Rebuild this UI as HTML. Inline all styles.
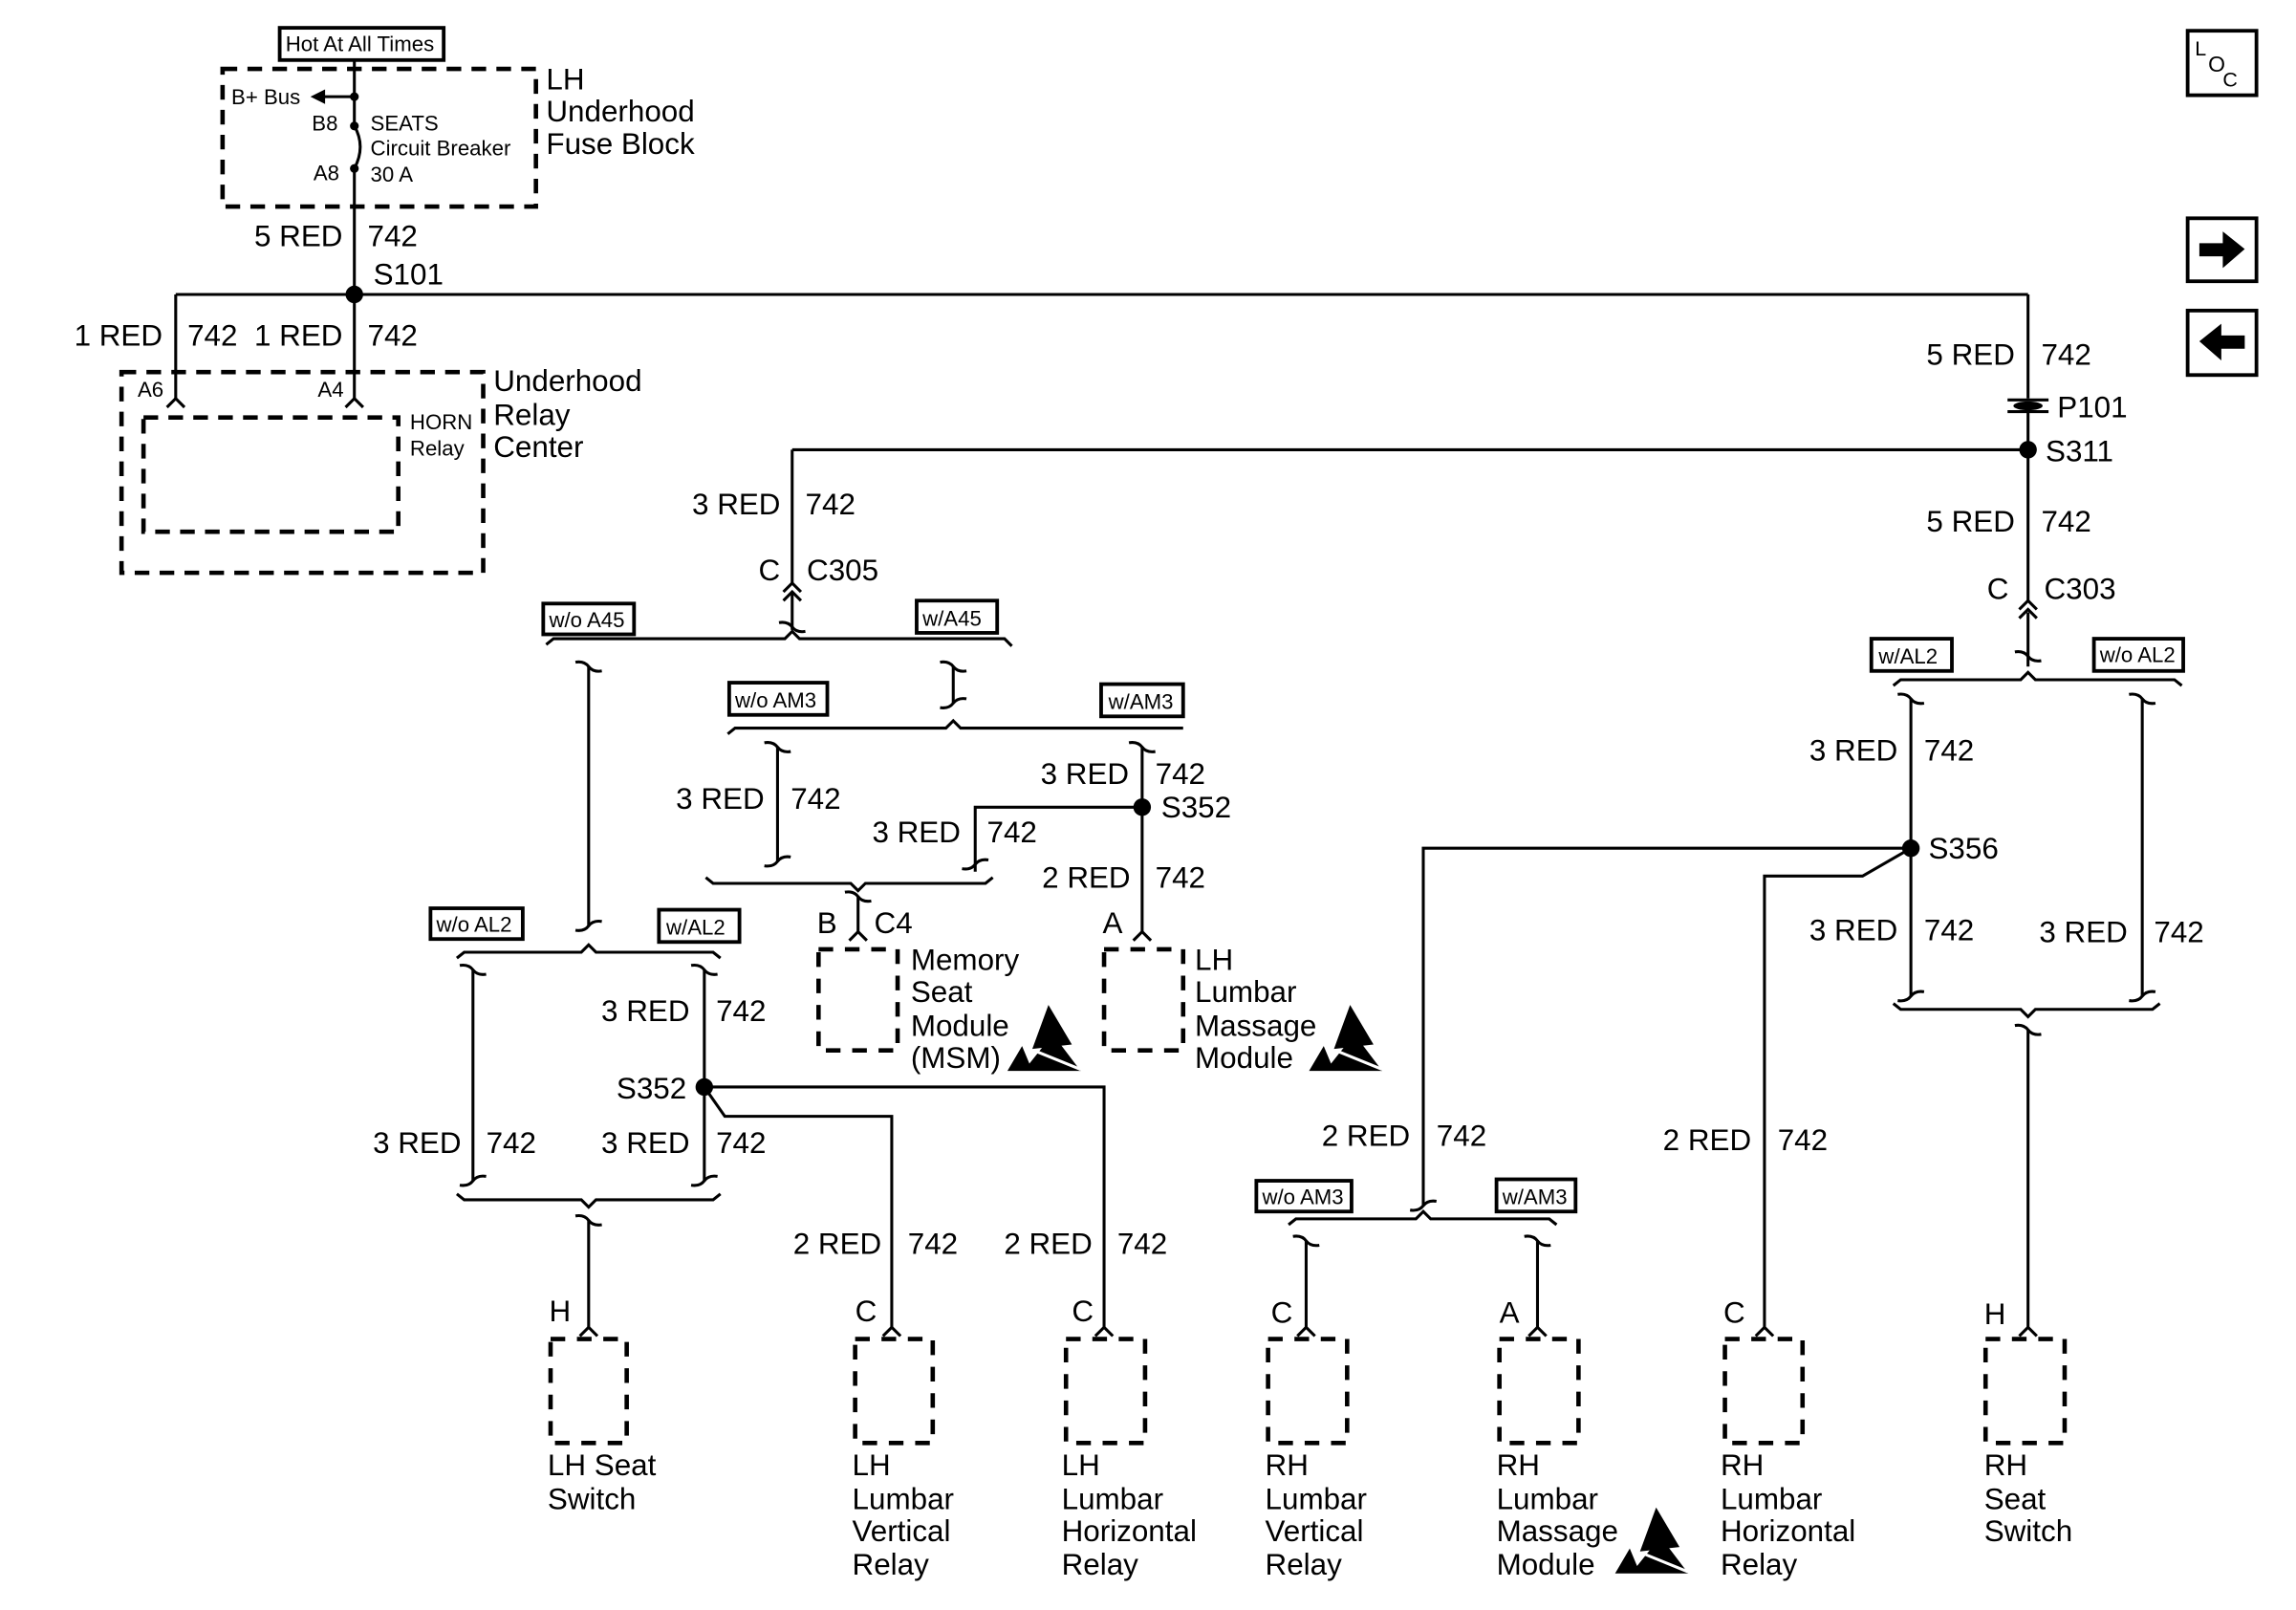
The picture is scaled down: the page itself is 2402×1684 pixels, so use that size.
<!DOCTYPE html>
<html><head><meta charset="utf-8"><style>
html,body{margin:0;padding:0;background:#fff}
svg{display:block}
text{font-family:"Liberation Sans",Arial,sans-serif;fill:#000}
.b{font-size:20.5px}.w{font-size:20.5px}.s{font-size:14.5px}
</style></head><body>
<svg width="2402" height="1684" viewBox="0 0 1568 1099" preserveAspectRatio="none" xmlns="http://www.w3.org/2000/svg">
<defs>
<path id="cap" d="M-9,-3 Q-3,-4 0,0 Q3,4 9,3" fill="none" stroke="#000" stroke-width="2"/>
<path id="capb" d="M-9,3 Q-3,4 0,0 Q3,-4 9,-3" fill="none" stroke="#000" stroke-width="2"/>
<path id="fem" d="M-6,6 L0,0 L6,6" fill="none" stroke="#000" stroke-width="2"/>
<g id="esd"><path d="M28,0 L17,30 L44,27 Z" fill="#000"/><path d="M0,45 L10,28 L15,40 L31,20 L50,45 Z" fill="#000"/><path d="M18,31 L50,44" stroke="#fff" stroke-width="2"/></g>
</defs>
<g fill="none" stroke="#000" stroke-width="2">
<rect x="191" y="19" width="112" height="22" stroke-width="2.5"/>
<rect x="152" y="47" width="214" height="94" stroke-dasharray="10,7" stroke-width="3"/>
<line x1="242" y1="41" x2="242" y2="86"/>
<line x1="242" y1="66" x2="220" y2="66"/>
<path d="M242,86 Q250,100 242,115"/>
<line x1="242" y1="115" x2="242" y2="272"/>
<line x1="120" y1="201" x2="1385" y2="201"/>
<line x1="120" y1="201" x2="120" y2="272"/>
<rect x="83" y="254" width="247" height="137" stroke-dasharray="10,7" stroke-width="3"/>
<rect x="98" y="285" width="174" height="78" stroke-dasharray="10,7" stroke-width="3"/>
<line x1="1385" y1="201" x2="1385" y2="272"/>
<line x1="1371" y1="273" x2="1399" y2="273"/><line x1="1371" y1="281" x2="1399" y2="281"/>
<line x1="1385" y1="281" x2="1385" y2="410"/>
<line x1="541" y1="307" x2="1385" y2="307"/>
<line x1="541" y1="307" x2="541" y2="398"/>
<line x1="541" y1="404" x2="541" y2="430"/>
<path d="M373,440 L378,436 L536,436 L541,431 L546,436 L686,436 L691,441"/>
<line x1="402" y1="455" x2="402" y2="632"/>
<line x1="651" y1="455" x2="651" y2="480"/>
<path d="M497,501 L502,497 L646,497 L651,492 L656,497 L808,497"/>
<line x1="531" y1="510" x2="531" y2="588"/>
<line x1="780" y1="510" x2="780" y2="636"/>
<polyline points="780,551 666,551 666,595"/>
<path d="M482,599 L487,603 L581,603 L586,608 L591,603 L673,603 L678,599"/>
<line x1="586" y1="612" x2="586" y2="636"/>
<rect x="559" y="648" width="54" height="69" stroke-dasharray="10,8" stroke-width="3"/>
<rect x="754" y="648" width="54" height="69" stroke-dasharray="10,8" stroke-width="3"/>
<path d="M312,654 L317,650 L397,650 L402,645 L407,650 L487,650 L492,654"/>
<line x1="323" y1="662" x2="323" y2="806"/>
<line x1="481" y1="662" x2="481" y2="806"/>
<path d="M312,815 L317,819 L397,819 L402,824 L407,819 L487,819 L492,815"/>
<line x1="402" y1="833" x2="402" y2="906"/>
<polyline points="481,742 754,742 754,906"/>
<polyline points="481,742 495,762 609,762 609,906"/>
<rect x="376" y="914" width="52" height="71" stroke-dasharray="10,8" stroke-width="3"/>
<rect x="584" y="914" width="53" height="71" stroke-dasharray="10,8" stroke-width="3"/>
<rect x="728" y="914" width="54" height="71" stroke-dasharray="10,8" stroke-width="3"/>
<line x1="1385" y1="418" x2="1385" y2="455"/>
<path d="M1293,468 L1298,464 L1380,464 L1385,459 L1390,464 L1485,464 L1490,468"/>
<line x1="1305" y1="477" x2="1305" y2="680"/>
<line x1="1463" y1="477" x2="1463" y2="680"/>
<path d="M1293,685 L1298,689 L1380,689 L1385,694 L1390,689 L1470,689 L1475,685"/>
<line x1="1385" y1="703" x2="1385" y2="906"/>
<polyline points="1305,579 972,579 972,823"/>
<polyline points="1305,579 1272,598 1205,598 1205,906"/>
<path d="M880,836 L885,832 L967,832 L972,827 L977,832 L1058,832 L1063,836"/>
<line x1="892" y1="847" x2="892" y2="906"/>
<line x1="1050" y1="847" x2="1050" y2="906"/>
<rect x="866" y="914" width="54" height="71" stroke-dasharray="10,8" stroke-width="3"/>
<rect x="1024" y="914" width="54" height="71" stroke-dasharray="10,8" stroke-width="3"/>
<rect x="1178" y="914" width="53" height="71" stroke-dasharray="10,8" stroke-width="3"/>
<rect x="1356" y="914" width="54" height="71" stroke-dasharray="10,8" stroke-width="3"/>
<g stroke-width="2.5">
<rect x="371" y="412" width="62" height="21"/><rect x="626" y="410" width="55" height="22"/>
<rect x="498" y="466" width="67" height="22"/><rect x="752" y="467" width="56" height="22"/>
<rect x="294" y="620" width="63" height="21"/><rect x="450" y="621" width="55" height="22"/>
<rect x="1278" y="436" width="55" height="22"/><rect x="1430" y="436" width="61" height="22"/>
<rect x="858" y="806" width="65" height="21"/><rect x="1022" y="805" width="54" height="22"/>
</g>
<rect x="1494" y="21" width="47" height="44" stroke-width="2.5"/>
<rect x="1494" y="149" width="47" height="43" stroke-width="2.5"/>
<rect x="1494" y="212" width="47" height="44" stroke-width="2.5"/>
</g>
<use href="#fem" x="120" y="272"/><use href="#fem" x="242" y="272"/>
<use href="#fem" x="541" y="398"/><use href="#fem" x="541" y="404"/>
<use href="#fem" x="1385" y="410"/><use href="#fem" x="1385" y="416"/>
<use href="#cap" x="541" y="428"/>
<use href="#cap" x="402" y="455"/><use href="#capb" x="402" y="632"/>
<use href="#cap" x="651" y="455"/><use href="#capb" x="651" y="480"/>
<use href="#cap" x="531" y="510"/><use href="#capb" x="531" y="588"/>
<use href="#cap" x="780" y="510"/><use href="#capb" x="666" y="590"/>
<use href="#cap" x="586" y="612"/><use href="#fem" x="586" y="636"/><use href="#fem" x="780" y="636"/>
<use href="#cap" x="323" y="662"/><use href="#capb" x="323" y="806"/>
<use href="#cap" x="481" y="662"/><use href="#capb" x="481" y="806"/>
<use href="#cap" x="402" y="833"/>
<use href="#fem" x="402" y="906"/><use href="#fem" x="609" y="906"/><use href="#fem" x="754" y="906"/>
<use href="#cap" x="1385" y="448"/>
<use href="#cap" x="1305" y="477"/><use href="#cap" x="1463" y="477"/>
<use href="#capb" x="1305" y="680"/><use href="#capb" x="1463" y="680"/>
<use href="#cap" x="1385" y="703"/>
<use href="#capb" x="972" y="823"/>
<use href="#cap" x="892" y="847"/><use href="#cap" x="1050" y="847"/>
<use href="#fem" x="892" y="906"/><use href="#fem" x="1050" y="906"/><use href="#fem" x="1205" y="906"/><use href="#fem" x="1385" y="906"/>
<g fill="#000">
<circle cx="242" cy="66" r="3"/><circle cx="242" cy="86" r="3"/><circle cx="242" cy="115" r="3"/>
<path d="M212,66 L222,61 L222,71 Z"/>
<circle cx="242" cy="201" r="6"/><circle cx="1385" cy="307" r="6"/>
<circle cx="780" cy="551" r="6"/><circle cx="481" cy="742" r="6"/><circle cx="1305" cy="579" r="6"/>
<ellipse cx="1385" cy="277" rx="10" ry="3"/>
<path d="M1502,166 L1518,166 L1518,158 L1533,170 L1518,183 L1518,175 L1502,175 Z"/>
<path d="M1533,229 L1517,229 L1517,221 L1502,233 L1517,246 L1517,238 L1533,238 Z"/>
</g>
<use href="#esd" x="688" y="686"/><use href="#esd" x="894" y="686"/><use href="#esd" x="1103" y="1029"/>
<g class="s">
<text x="195" y="35">Hot At All Times</text>
<text x="158" y="71">B+ Bus</text>
<text x="213" y="89">B8</text><text x="253" y="89">SEATS</text>
<text x="253" y="106">Circuit Breaker</text>
<text x="214" y="123">A8</text><text x="253" y="124">30 A</text>
<text x="94" y="271">A6</text><text x="217" y="271">A4</text>
<text x="280" y="293">HORN</text><text x="280" y="311">Relay</text>
<text x="375" y="428">w/o A45</text><text x="630" y="427">w/A45</text>
<text x="502" y="483">w/o AM3</text><text x="757" y="484">w/AM3</text>
<text x="298" y="636">w/o AL2</text><text x="455" y="638">w/AL2</text>
<text x="1283" y="453">w/AL2</text><text x="1434" y="452">w/o AL2</text>
<text x="862" y="822">w/o AM3</text><text x="1026" y="822">w/AM3</text>
</g>
<text x="1499" y="38" font-size="14">L</text><text x="1508" y="49" font-size="15">O</text><text x="1518" y="59" font-size="14">C</text>
<g class="b">
<text x="373" y="61">LH</text><text x="373" y="83">Underhood</text><text x="373" y="105">Fuse Block</text>
<text x="337" y="267">Underhood</text><text x="337" y="290">Relay</text><text x="337" y="312">Center</text>
<text x="622" y="662">Memory</text><text x="622" y="684">Seat</text><text x="622" y="707">Module</text><text x="622" y="729">(MSM)</text>
<text x="816" y="662">LH</text><text x="816" y="684">Lumbar</text><text x="816" y="707">Massage</text><text x="816" y="729">Module</text>
<text x="374" y="1007">LH Seat</text><text x="374" y="1030">Switch</text>
<text x="582" y="1007">LH</text><text x="582" y="1030">Lumbar</text><text x="582" y="1052">Vertical</text><text x="582" y="1075">Relay</text>
<text x="725" y="1007">LH</text><text x="725" y="1030">Lumbar</text><text x="725" y="1052">Horizontal</text><text x="725" y="1075">Relay</text>
<text x="864" y="1007">RH</text><text x="864" y="1030">Lumbar</text><text x="864" y="1052">Vertical</text><text x="864" y="1075">Relay</text>
<text x="1022" y="1007">RH</text><text x="1022" y="1030">Lumbar</text><text x="1022" y="1052">Massage</text><text x="1022" y="1075">Module</text>
<text x="1175" y="1007">RH</text><text x="1175" y="1030">Lumbar</text><text x="1175" y="1052">Horizontal</text><text x="1175" y="1075">Relay</text>
<text x="1355" y="1007">RH</text><text x="1355" y="1030">Seat</text><text x="1355" y="1052">Switch</text>
</g>
<g class="w">
<text x="234" y="168" text-anchor="end">5 RED</text><text x="251" y="168">742</text>
<text x="255" y="194">S101</text>
<text x="111" y="236" text-anchor="end">1 RED</text><text x="128" y="236">742</text>
<text x="234" y="236" text-anchor="end">1 RED</text><text x="251" y="236">742</text>
<text x="1376" y="249" text-anchor="end">5 RED</text><text x="1394" y="249">742</text>
<text x="1405" y="285">P101</text><text x="1397" y="315">S311</text>
<text x="533" y="351" text-anchor="end">3 RED</text><text x="550" y="351">742</text>
<text x="1376" y="363" text-anchor="end">5 RED</text><text x="1394" y="363">742</text>
<text x="518" y="396">C</text><text x="551" y="396">C305</text>
<text x="1357" y="409">C</text><text x="1396" y="409">C303</text>
<text x="522" y="552" text-anchor="end">3 RED</text><text x="540" y="552">742</text>
<text x="771" y="535" text-anchor="end">3 RED</text><text x="789" y="535">742</text>
<text x="793" y="558">S352</text>
<text x="656" y="575" text-anchor="end">3 RED</text><text x="674" y="575">742</text>
<text x="772" y="606" text-anchor="end">2 RED</text><text x="789" y="606">742</text>
<text x="558" y="637">B</text><text x="597" y="637">C4</text><text x="753" y="637">A</text>
<text x="1296" y="519" text-anchor="end">3 RED</text><text x="1314" y="519">742</text>
<text x="1317" y="586">S356</text>
<text x="1296" y="642" text-anchor="end">3 RED</text><text x="1314" y="642">742</text>
<text x="1453" y="643" text-anchor="end">3 RED</text><text x="1471" y="643">742</text>
<text x="471" y="697" text-anchor="end">3 RED</text><text x="489" y="697">742</text>
<text x="421" y="750">S352</text>
<text x="315" y="787" text-anchor="end">3 RED</text><text x="332" y="787">742</text>
<text x="471" y="787" text-anchor="end">3 RED</text><text x="489" y="787">742</text>
<text x="963" y="782" text-anchor="end">2 RED</text><text x="981" y="782">742</text>
<text x="1196" y="785" text-anchor="end">2 RED</text><text x="1214" y="785">742</text>
<text x="602" y="856" text-anchor="end">2 RED</text><text x="620" y="856">742</text>
<text x="746" y="856" text-anchor="end">2 RED</text><text x="763" y="856">742</text>
<text x="375" y="902">H</text><text x="584" y="902">C</text><text x="732" y="902">C</text>
<text x="868" y="903">C</text><text x="1024" y="903">A</text><text x="1177" y="903">C</text><text x="1355" y="904">H</text>
</g>
</svg>
</body></html>
